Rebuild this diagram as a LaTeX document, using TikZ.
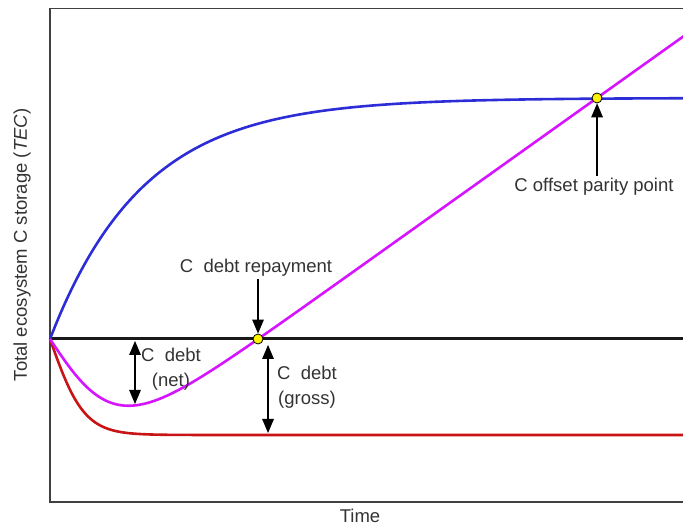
\documentclass[tikz,border=0pt]{standalone}
\usepackage{fontspec}
\setmainfont{Liberation Sans}
\usetikzlibrary{arrows}
\usetikzlibrary{shapes}

\definecolor{blueCurve}{RGB}{45,45,215}
\definecolor{magentaCurve}{RGB}{215,20,255}
\definecolor{redCurve}{RGB}{200,20,20}

\begin{document}
\begin{tikzpicture}[scale = 3.5146, font = \fontsize{18.5}{25}\selectfont]
	\tikzstyle{frameStyle} = [line width = 1.7pt, draw = black!75]
	\tikzstyle{curveStyle} = [line width = 2.6pt, smooth, samples = 200, domain = 0.5:6.9]
	\tikzstyle{dotStyle} = [shape = circle, minimum size = 10pt, inner sep = 0pt, draw, line width = 0.8pt, fill = yellow]
	\tikzstyle{textStyle} = [text = black!80, inner sep = 2pt, align = center]
	\tikzstyle{arrowStyle} = [line width = 2.3pt, -triangle 45]
	\useasboundingbox (0,0) rectangle (6.83,5.27);
	\clip (0,0) rectangle (6.83,5.27);
	\draw[frameStyle] (7,5.185) -- (0.5,5.185) -- (0.5,0.25) -- (7,0.25);
	\coordinate (v0) at (0.5,1.88);
	\coordinate (c0) at (7,1.88);
	\draw[line width = 3pt, draw = black!90] (v0) -- (c0);
	\draw[curveStyle, draw = redCurve] plot (\x, {1.88-0.96*tanh(min((\x-0.5)/0.34,5))});
	\draw[curveStyle, draw = blueCurve] plot (\x, {1.88+2.41*(1-exp(-min((\x-0.5)/0.93,8)))});
	\draw[curveStyle, draw = magentaCurve] plot (\x, {1.88-1.49*tanh(min((\x-0.5)/0.672,5))+0.713*(\x-0.5)});
	\node[dotStyle] (v1) at (2.58,1.88) {};
	\node[dotStyle] (v2) at (5.97,4.29) {};
	\node[textStyle] (t1) at (2.56,2.59) {C~~debt repayment};
	\node[textStyle] (t2) at (5.94,3.40) {C offset parity point};
	\node[textStyle] (t3) at (1.71,1.58) {C~~debt\\(net)};
	\node[textStyle] (t4) at (3.07,1.40) {C~~debt\\(gross)};
	\node[textStyle] (t5) at (3.60,0.11) {Time};
	\node[textStyle, rotate = 90] (t6) at (0.22,2.82) {Total ecosystem C storage (\textit{TEC})};
	\coordinate (c1) at (1.35,1.86);
	\coordinate (c2) at (1.35,1.23);
	\coordinate (c3) at (2.68,1.82);
	\coordinate (c4) at (2.68,0.94);
	\draw[arrowStyle] (t1.south -| v1) -- (v1.north);
	\draw[arrowStyle] (t2.north -| v2) -- (v2.south);
	\draw[arrowStyle, triangle 45-triangle 45] (c1) -- (c2);
	\draw[arrowStyle, triangle 45-triangle 45] (c3) -- (c4);
\end{tikzpicture}
\end{document}
